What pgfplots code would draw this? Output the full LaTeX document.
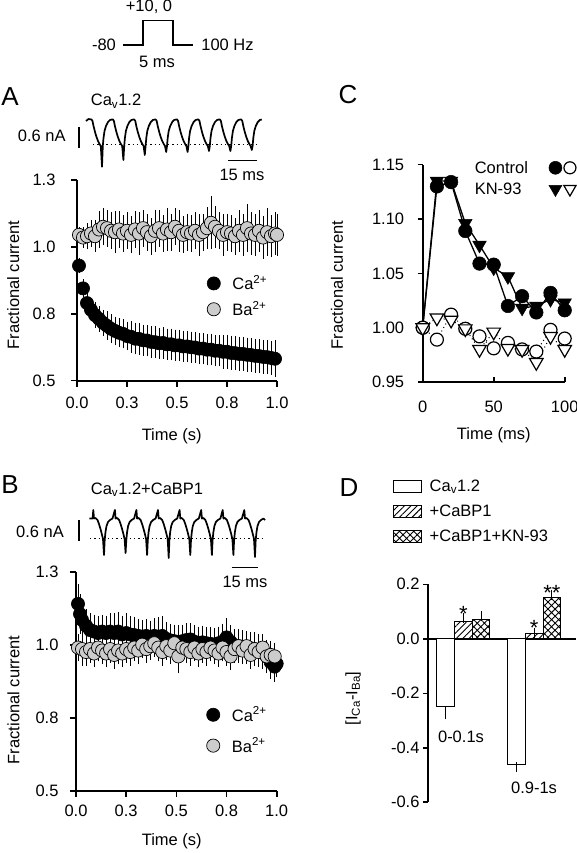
\documentclass[border=0pt]{standalone}
\usepackage{fontspec}
\setmainfont{Liberation Sans}
\usepackage{pgfplots}
\pgfplotsset{compat=1.18}
\usetikzlibrary{patterns.meta}
\definecolor{bagray}{RGB}{204,204,204}
\newcommand{\fs}{\fontsize{16.5}{19}\selectfont}
\pgfplotsset{
  panel/.style={
    scale only axis, clip=false,
    axis x line*=bottom, axis y line*=left,
    axis line style={line width=1.8pt,-},
    tick style={black,line width=1.6pt},
    major tick length=6pt,
    tick align=outside,
    tick label style={font=\fs},
    label style={font=\fs},
    legend style={font=\fs, draw=none, fill=none},
    /pgf/number format/assume math mode=true,
  },
  ebar/.style={error bars/.cd, y dir=both, y explicit,
    error bar style={line width=0.9pt, black},
    error mark options={line width=0.9pt, mark size=5pt, black}},
  markleg/.style={legend image code/.code={\draw[##1] plot coordinates {(6pt,0pt)};}},
}
\begin{document}
\begin{tikzpicture}[x=1pt,y=1pt,font=\fs]
\path[use as bounding box] (0,0) rectangle (577,853);

% ---------------- overlay (annotations, traces) ----------------
\begin{axis}[at={(0pt,0pt)}, anchor=south west, scale only axis, width=577pt, height=853pt,
  xmin=0, xmax=577, ymin=0, ymax=853, y dir=reverse, hide axis, clip=false]
% protocol
\addplot[black, line width=1.1pt] coordinates {(123,45) (143,45) (143,20.7) (173,20.7) (173,45) (193,45)};
\node at (axis cs:149,7) {+10, 0};
\node at (axis cs:104,45) {-80};
\node at (axis cs:227.5,45) {100 Hz};
\node at (axis cs:157,62) {5 ms};
% panel letters
\node at (axis cs:10,97) {\fontsize{26}{30}\selectfont A};
\node at (axis cs:10,484.5) {\fontsize{26}{30}\selectfont B};
\node at (axis cs:348,95) {\fontsize{26}{30}\selectfont C};
\node at (axis cs:349,488) {\fontsize{26}{30}\selectfont D};
% trace A
\node[anchor=base west, inner sep=0pt] at (axis cs:90.7,106) {Ca\textsubscript{v}1.2};
\node at (axis cs:41.7,136) {0.6 nA};
\addplot[black, line width=1.2pt] coordinates {(79,126.7) (79,148.3)};
\addplot[black, line width=1.5pt, dash pattern=on 1.4pt off 3pt] coordinates {(93,144.5) (258,144.5)};
\addplot[black, line width=1.2pt] coordinates {(228,160.7) (257,160.7)};
\node at (axis cs:242,175) {15 ms};
\addplot[black, line width=1.7pt, line join=round] coordinates {
(86,121) (88.5,119)
(91.5,119.5)(92.5,121)(93.5,126)(95,132)(96.5,137)(98,141)(99.5,144)(100.8,146)(102,166.7)(102.8,146)(103.5,138)(104.5,131)(106,126)(108,122)(110,120)(112,119.5)
(112.9,119.5)(113.9,121)(114.9,126)(116.4,132)(117.9,137)(119.4,141)(120.9,144)(122.2,146)(123.4,160)(124.2,146)(124.9,138)(125.9,131)(127.4,126)(129.4,122)(131.4,120)(133.4,119.5)
(134.3,119.5)(135.3,121)(136.3,126)(137.8,132)(139.3,137)(140.8,141)(142.3,144)(143.6,146)(144.8,155)(145.6,146)(146.3,138)(147.3,131)(148.8,126)(150.8,122)(152.8,120)(154.8,119.5)
(155.7,119.5)(156.7,121)(157.7,126)(159.2,132)(160.7,137)(162.2,141)(163.7,144)(165,146)(166.2,152)(167,146)(167.7,138)(168.7,131)(170.2,126)(172.2,122)(174.2,120)(176.2,119.5)
(177.1,119.5)(178.1,121)(179.1,126)(180.6,132)(182.1,137)(183.6,141)(185.1,144)(186.4,146)(187.6,152)(188.4,146)(189.1,138)(190.1,131)(191.6,126)(193.6,122)(195.6,120)(197.6,119.5)
(198.5,119.5)(199.5,121)(200.5,126)(202,132)(203.5,137)(205,141)(206.5,144)(207.8,146)(209,151)(209.8,146)(210.5,138)(211.5,131)(213,126)(215,122)(217,120)(219,119.5)
(219.9,119.5)(220.9,121)(221.9,126)(223.4,132)(224.9,137)(226.4,141)(227.9,144)(229.2,146)(230.4,151)(231.2,146)(231.9,138)(232.9,131)(234.4,126)(236.4,122)(238.4,120)(240.4,119.5)
(241.3,119.5)(242.3,121)(243.3,126)(244.8,132)(246.3,137)(247.8,141)(249.3,144)(250.6,146)(251.8,150)(252.6,146)(253.3,138)(254.3,131)(255.8,126)(257.8,122)(259.8,120)(261.8,119.5)};
% trace B
\node[anchor=base west, inner sep=0pt] at (axis cs:90.7,494.3) {Ca\textsubscript{v}1.2+CaBP1};
\node at (axis cs:40,531.7) {0.6 nA};
\addplot[black, line width=1.2pt] coordinates {(79,520) (79,540.7)};
\addplot[black, line width=1.5pt, dash pattern=on 1.4pt off 3pt] coordinates {(90,538.3) (263,538.3)};
\addplot[black, line width=1.2pt] coordinates {(231.7,567.3) (258.3,567.3)};
\node at (axis cs:245,581.7) {15 ms};
\addplot[black, line width=1.7pt, line join=round] coordinates {
(89.3,518.5)(92.6,518.5)
(93.3,510)(94,518.5)(95.5,518)(97.5,520)(99,524)(100.5,529)(101.8,534)(103,539)(104,555)(104.7,540)(105.5,532)(106.5,526)(108,522)(110,520)(112.5,518.5)
(114.9,510)(115.6,518.5)(117.1,518)(119.1,520)(120.6,524)(122.1,529)(123.4,534)(124.6,539)(125.6,553)(126.3,540)(127.1,532)(128.1,526)(129.6,522)(131.6,520)(134.1,518.5)
(136.4,510)(137.1,518.5)(138.6,518)(140.6,520)(142.1,524)(143.6,529)(144.9,534)(146.1,539)(147.1,555)(147.8,540)(148.6,532)(149.6,526)(151.1,522)(153.1,520)(155.6,518.5)
(158,510)(158.7,518.5)(160.2,518)(162.2,520)(163.7,524)(165.2,529)(166.5,534)(167.7,539)(168.7,558)(169.4,540)(170.2,532)(171.2,526)(172.7,522)(174.7,520)(177.2,518.5)
(179.6,510)(180.3,518.5)(181.8,518)(183.8,520)(185.3,524)(186.8,529)(188.1,534)(189.3,539)(190.3,555)(191,540)(191.8,532)(192.8,526)(194.3,522)(196.3,520)(198.8,518.5)
(201.2,510)(201.9,518.5)(203.4,518)(205.4,520)(206.9,524)(208.4,529)(209.7,534)(210.9,539)(211.9,555)(212.6,540)(213.4,532)(214.4,526)(215.9,522)(217.9,520)(220.4,518.5)
(222.7,510)(223.4,518.5)(224.9,518)(226.9,520)(228.4,524)(229.9,529)(231.2,534)(232.4,539)(233.4,555)(234.1,540)(234.9,532)(235.9,526)(237.4,522)(239.4,520)(241.9,518.5)
(244.3,510)(245,518.5)(246.5,518)(248.5,520)(250,524)(251.5,529)(252.8,534)(254,539)(255,557)(255.7,540)(256.5,532)(257.5,526)(259,522)(261,520)(263.5,518.5)(265,520)};
% D group labels
\node at (axis cs:461,736.7) {0-0.1s};
\node at (axis cs:534,788.3) {0.9-1s};
\end{axis}

% ---------------- Panel A ----------------
\begin{axis}[panel, markleg, at={(77pt,472.3pt)}, anchor=south west, width=200pt, height=200.7pt,
  xmin=0, xmax=1, ymin=0.5, ymax=1.25,
  xtick={0,0.25,0.5,0.75,1}, xticklabels={0.0,0.3,0.5,0.8,1.0},
  ytick={0.5,0.75,1,1.25}, yticklabels={0.5,0.8,1.0,1.3},
  xticklabel style={yshift=-7pt}, yticklabel style={xshift=-12pt},
  xlabel={Time (s)}, ylabel={Fractional current},
  xlabel style={at={(axis description cs:0.4735,-0.279)}, anchor=center},
  ylabel style={at={(axis description cs:-0.3185,0.477)}, anchor=center},
  legend style={at={(axis description cs:0.635,0.545)}, anchor=north west, row sep=6pt,
    /tikz/every odd column/.append style={column sep=10pt}},
  legend cell align=left]
\addplot[only marks, mark=*, mark size=6.6pt, mark options={fill=black, draw=black, line width=0.6pt}, ebar]
  coordinates {
(0.01,0.930) +- (0,0.010) (0.03,0.845) +- (0,0.015) (0.05,0.790) +- (0,0.020) (0.07,0.765) +- (0,0.025)
(0.09,0.745) +- (0,0.030) (0.11,0.731) +- (0,0.030) (0.13,0.716) +- (0,0.030) (0.15,0.705) +- (0,0.035)
(0.17,0.694) +- (0,0.035) (0.19,0.686) +- (0,0.035) (0.21,0.679) +- (0,0.035) (0.23,0.675) +- (0,0.035)
(0.25,0.667) +- (0,0.035) (0.27,0.664) +- (0,0.040) (0.29,0.657) +- (0,0.040) (0.31,0.656) +- (0,0.040)
(0.33,0.651) +- (0,0.040) (0.35,0.650) +- (0,0.040) (0.37,0.645) +- (0,0.040) (0.39,0.644) +- (0,0.040)
(0.41,0.640) +- (0,0.040) (0.43,0.641) +- (0,0.040) (0.45,0.636) +- (0,0.040) (0.47,0.636) +- (0,0.040)
(0.49,0.632) +- (0,0.040) (0.51,0.632) +- (0,0.040) (0.53,0.628) +- (0,0.040) (0.55,0.628) +- (0,0.040)
(0.57,0.625) +- (0,0.040) (0.59,0.624) +- (0,0.040) (0.61,0.620) +- (0,0.040) (0.63,0.620) +- (0,0.040)
(0.65,0.616) +- (0,0.040) (0.67,0.616) +- (0,0.040) (0.69,0.612) +- (0,0.040) (0.71,0.612) +- (0,0.040)
(0.73,0.608) +- (0,0.045) (0.75,0.608) +- (0,0.045) (0.77,0.604) +- (0,0.045) (0.79,0.603) +- (0,0.045)
(0.81,0.600) +- (0,0.045) (0.83,0.600) +- (0,0.045) (0.85,0.597) +- (0,0.045) (0.87,0.596) +- (0,0.045)
(0.89,0.593) +- (0,0.045) (0.91,0.592) +- (0,0.045) (0.93,0.589) +- (0,0.045) (0.95,0.588) +- (0,0.045)
(0.97,0.585) +- (0,0.045) (0.99,0.582) +- (0,0.050)};
\addlegendentry{Ca\textsuperscript{2+}}
\addplot[only marks, mark=*, mark size=6.6pt, mark options={fill=bagray, draw=black, line width=0.7pt}, ebar]
  coordinates {
(0.01,1.045) +- (0,0.010) (0.03,1.035) +- (0,0.020) (0.05,1.040) +- (0,0.030) (0.07,1.050) +- (0,0.030)
(0.09,1.040) +- (0,0.040) (0.11,1.065) +- (0,0.050) (0.13,1.075) +- (0,0.050) (0.15,1.070) +- (0,0.050)
(0.17,1.060) +- (0,0.050) (0.19,1.055) +- (0,0.060) (0.21,1.065) +- (0,0.050) (0.23,1.050) +- (0,0.050)
(0.25,1.060) +- (0,0.050) (0.27,1.045) +- (0,0.050) (0.29,1.065) +- (0,0.050) (0.31,1.050) +- (0,0.060)
(0.33,1.070) +- (0,0.050) (0.35,1.055) +- (0,0.050) (0.37,1.040) +- (0,0.050) (0.39,1.060) +- (0,0.060)
(0.41,1.070) +- (0,0.050) (0.43,1.050) +- (0,0.050) (0.45,1.065) +- (0,0.060) (0.47,1.055) +- (0,0.050)
(0.49,1.075) +- (0,0.050) (0.51,1.060) +- (0,0.060) (0.53,1.045) +- (0,0.050) (0.55,1.055) +- (0,0.050)
(0.57,1.050) +- (0,0.050) (0.59,1.060) +- (0,0.050) (0.61,1.045) +- (0,0.060) (0.63,1.055) +- (0,0.050)
(0.65,1.070) +- (0,0.060) (0.67,1.090) +- (0,0.080) (0.69,1.075) +- (0,0.060) (0.71,1.060) +- (0,0.050)
(0.73,1.045) +- (0,0.060) (0.75,1.055) +- (0,0.050) (0.77,1.050) +- (0,0.050) (0.79,1.040) +- (0,0.050)
(0.81,1.060) +- (0,0.060) (0.83,1.045) +- (0,0.060) (0.85,1.070) +- (0,0.070) (0.87,1.050) +- (0,0.060)
(0.89,1.045) +- (0,0.060) (0.91,1.060) +- (0,0.060) (0.93,1.035) +- (0,0.060) (0.95,1.055) +- (0,0.070)
(0.97,1.040) +- (0,0.060) (0.99,1.050) +- (0,0.060) (1.00,1.045) +- (0,0.060)};
\addlegendentry{Ba\textsuperscript{2+}}
\end{axis}

% ---------------- Panel B ----------------
\begin{axis}[panel, markleg, at={(76pt,62.3pt)}, anchor=south west, width=200.7pt, height=219pt,
  xmin=0, xmax=1, ymin=0.5, ymax=1.25,
  xtick={0,0.25,0.5,0.75,1}, xticklabels={0.0,0.3,0.5,0.8,1.0},
  ytick={0.5,0.75,1,1.25}, yticklabels={0.5,0.8,1.0,1.3},
  xticklabel style={yshift=-5pt}, yticklabel style={xshift=-8pt},
  xlabel={Time (s)}, ylabel={Fractional current},
  xlabel style={at={(axis description cs:0.477,-0.233)}, anchor=center},
  ylabel style={at={(axis description cs:-0.312,0.414)}, anchor=center},
  legend style={at={(axis description cs:0.635,0.402)}, anchor=north west, row sep=11pt,
    /tikz/every odd column/.append style={column sep=10pt}},
  legend cell align=left]
\addplot[only marks, mark=*, mark size=6.6pt, mark options={fill=black, draw=black, line width=0.6pt}, ebar]
  coordinates {
(0.01,1.140) +- (0,0.050) (0.02,1.105) +- (0,0.050) (0.03,1.085) +- (0,0.040) (0.05,1.065) +- (0,0.040)
(0.07,1.050) +- (0,0.040) (0.09,1.045) +- (0,0.040) (0.11,1.040) +- (0,0.040) (0.13,1.045) +- (0,0.040)
(0.15,1.040) +- (0,0.040) (0.17,1.045) +- (0,0.045) (0.19,1.040) +- (0,0.050) (0.21,1.045) +- (0,0.050)
(0.23,1.035) +- (0,0.045) (0.25,1.040) +- (0,0.050) (0.27,1.035) +- (0,0.045) (0.29,1.033) +- (0,0.045)
(0.31,1.030) +- (0,0.040) (0.33,1.028) +- (0,0.040) (0.35,1.030) +- (0,0.040) (0.37,1.025) +- (0,0.040)
(0.39,1.030) +- (0,0.045) (0.41,1.028) +- (0,0.050) (0.43,1.030) +- (0,0.050) (0.45,1.020) +- (0,0.040)
(0.47,1.015) +- (0,0.040) (0.49,1.012) +- (0,0.040) (0.51,1.010) +- (0,0.040) (0.53,1.012) +- (0,0.040)
(0.55,1.016) +- (0,0.040) (0.57,1.018) +- (0,0.040) (0.59,1.010) +- (0,0.040) (0.61,1.005) +- (0,0.040)
(0.63,1.008) +- (0,0.040) (0.65,1.005) +- (0,0.040) (0.67,1.003) +- (0,0.040) (0.69,1.000) +- (0,0.040)
(0.71,1.005) +- (0,0.040) (0.73,1.010) +- (0,0.045) (0.75,1.025) +- (0,0.050) (0.77,1.010) +- (0,0.040)
(0.79,0.998) +- (0,0.040) (0.81,0.995) +- (0,0.040) (0.83,0.992) +- (0,0.040) (0.85,0.990) +- (0,0.040)
(0.87,0.988) +- (0,0.040) (0.89,0.985) +- (0,0.040) (0.91,0.980) +- (0,0.040) (0.93,0.975) +- (0,0.040)
(0.95,0.960) +- (0,0.040) (0.97,0.940) +- (0,0.040) (0.99,0.925) +- (0,0.035) (1.00,0.935) +- (0,0.030)};
\addlegendentry{Ca\textsuperscript{2+}}
\addplot[only marks, mark=*, mark size=6.6pt, mark options={fill=bagray, draw=black, line width=0.7pt}, ebar]
  coordinates {
(0.01,0.990) +- (0,0.030) (0.03,0.985) +- (0,0.040) (0.05,0.975) +- (0,0.030) (0.07,0.985) +- (0,0.030)
(0.09,0.970) +- (0,0.030) (0.11,0.990) +- (0,0.030) (0.13,0.980) +- (0,0.030) (0.15,0.970) +- (0,0.030)
(0.17,0.985) +- (0,0.030) (0.19,0.965) +- (0,0.030) (0.21,0.980) +- (0,0.030) (0.23,0.970) +- (0,0.030)
(0.25,0.985) +- (0,0.030) (0.27,0.975) +- (0,0.030) (0.29,0.990) +- (0,0.030) (0.31,0.980) +- (0,0.030)
(0.33,1.000) +- (0,0.030) (0.35,0.985) +- (0,0.030) (0.37,0.995) +- (0,0.030) (0.39,1.005) +- (0,0.030)
(0.41,0.990) +- (0,0.030) (0.43,0.975) +- (0,0.030) (0.45,0.995) +- (0,0.030) (0.47,0.980) +- (0,0.030)
(0.49,1.005) +- (0,0.030) (0.51,0.960) +- (0,0.040) (0.53,0.990) +- (0,0.030) (0.55,0.985) +- (0,0.030)
(0.57,0.975) +- (0,0.030) (0.59,0.990) +- (0,0.030) (0.61,0.970) +- (0,0.030) (0.63,0.985) +- (0,0.030)
(0.65,0.975) +- (0,0.030) (0.67,0.990) +- (0,0.030) (0.69,0.980) +- (0,0.030) (0.71,0.970) +- (0,0.030)
(0.73,0.990) +- (0,0.030) (0.75,0.975) +- (0,0.030) (0.77,0.960) +- (0,0.030) (0.79,0.985) +- (0,0.030)
(0.81,0.995) +- (0,0.030) (0.83,0.980) +- (0,0.030) (0.85,0.995) +- (0,0.030) (0.87,0.965) +- (0,0.030)
(0.89,0.985) +- (0,0.030) (0.91,0.975) +- (0,0.030) (0.93,0.990) +- (0,0.030) (0.95,0.960) +- (0,0.030)
(0.97,0.965) +- (0,0.030) (0.99,0.960) +- (0,0.030)};
\addlegendentry{Ba\textsuperscript{2+}}
\end{axis}

% ---------------- Panel C ----------------
\begin{axis}[panel, at={(422.7pt,471pt)}, anchor=south west, width=142pt, height=217.3pt,
  xmin=0, xmax=100, ymin=0.95, ymax=1.15,
  tick align=inside, major tick length=5pt,
  every y tick/.append style={xshift=-5pt},
  xtick={0,50,100}, xticklabels={0,50,100},
  ytick={0.95,1.00,1.05,1.10,1.15}, yticklabels={0.95,1.00,1.05,1.10,1.15},
  xticklabel style={yshift=-15pt}, yticklabel style={xshift=-15pt},
  xlabel={Time (ms)}, ylabel={Fractional current},
  xlabel style={at={(axis description cs:0.5,-0.245)}, anchor=center},
  ylabel style={at={(axis description cs:-0.603,0.446)}, anchor=center},
  legend columns=2,
  legend style={at={(axis description cs:0.33,1.036)}, anchor=north west, row sep=4pt,
    /tikz/every even column/.append style={column sep=19pt}},
  legend cell align=left]
\addplot[black, line width=1.3pt, mark=triangle*, mark size=7.8pt, mark options={solid, fill=black, rotate=180, line width=0.5pt}, forget plot]
  coordinates {(0,1.000)(10,1.135)(20,1.135)(30,1.096)(40,1.076)(50,1.055)(60,1.047)(70,1.018)(80,1.020)(90,1.026)(100,1.023)};
\addplot[black, line width=1.3pt, mark=*, mark size=6.8pt, mark options={solid, fill=black, line width=0.5pt}, forget plot]
  coordinates {(0,1.000)(10,1.130)(20,1.134)(30,1.089)(40,1.059)(50,1.058)(60,1.020)(70,1.029)(80,1.014)(90,1.032)(100,1.016)};
\addplot[black, line width=1pt, dash pattern=on 1pt off 3pt, mark=*, mark size=6.5pt, mark options={solid, fill=white, line width=1.2pt}, forget plot]
  coordinates {(0,1.000)(10,0.989)(20,1.012)(30,0.999)(40,0.992)(50,0.981)(60,0.986)(70,0.980)(80,0.978)(90,0.998)(100,0.990)};
\addplot[black, line width=1pt, dash pattern=on 1pt off 3pt, mark=triangle*, mark size=7.8pt, mark options={solid, fill=white, rotate=180, line width=1.2pt}, forget plot]
  coordinates {(0,1.000)(10,1.009)(20,1.007)(30,0.999)(40,0.980)(50,0.996)(60,0.981)(70,0.980)(80,0.968)(90,0.992)(100,0.980)};
\addlegendimage{empty legend}\addlegendentry{Control}
\addlegendimage{legend image code/.code={
  \draw[black, fill=black, line width=0.5pt] plot[only marks, mark=*, mark size=6.5pt] coordinates {(0pt,0pt)};
  \draw[black, fill=white, line width=1.2pt] plot[only marks, mark=*, mark size=6pt] coordinates {(14.5pt,0pt)};}}
\addlegendentry{}
\addlegendimage{empty legend}\addlegendentry{KN-93}
\addlegendimage{legend image code/.code={
  \draw[black, fill=black, line width=0.5pt] plot[only marks, mark=triangle*, mark size=7.5pt, mark options={rotate=180}] coordinates {(0pt,0pt)};
  \draw[black, fill=white, line width=1.2pt] plot[only marks, mark=triangle*, mark size=7pt, mark options={rotate=180}] coordinates {(14.5pt,0pt)};}}
\addlegendentry{}
\end{axis}

% ---------------- Panel D ----------------
\begin{axis}[panel, at={(428pt,50.7pt)}, anchor=south west, width=148pt, height=218pt,
  axis x line=none,
  xmin=0, xmax=8.36, ymin=-0.6, ymax=0.2, major tick length=5pt,
  xtick=\empty,
  ytick={-0.6,-0.4,-0.2,0,0.2}, yticklabels={-0.6,-0.4,-0.2,0.0,0.2},
  ylabel={[I\textsubscript{Ca}-I\textsubscript{Ba}]},
  ylabel style={at={(axis description cs:-0.506,0.477)}, anchor=center},
  legend style={at={(axis description cs:-0.26,1.5)}, anchor=north west, row sep=8pt,
    /tikz/every odd column/.append style={column sep=6pt}},
  legend cell align=left,
  legend image code/.code={\draw[#1, line width=1pt] (0pt,-6pt) rectangle (28pt,6pt);}]
\addplot[black, line width=1.8pt, forget plot] coordinates {(0,0) (8.36,0)};
\addplot[ybar, bar width=17.7pt, bar shift=0pt, draw=black, line width=1pt, fill=white, forget plot,
  error bars/.cd, y dir=minus, y explicit, error bar style={line width=1pt}, error mark options={line width=1pt, mark size=5pt}]
  coordinates {(1,-0.248) -= (0,0.028) (5,-0.463) -= (0,0.006)};
\addplot[ybar, bar width=17.7pt, bar shift=0pt, draw=black, line width=1pt, pattern={Lines[angle=45,distance=4.5pt,line width=0.9pt]}, forget plot,
  error bars/.cd, y dir=plus, y explicit, error bar style={line width=1pt}, error mark options={line width=1pt, mark size=5pt}]
  coordinates {(2,0.064) += (0,0.012) (6,0.018) += (0,0.003)};
\addplot[ybar, bar width=17.7pt, bar shift=0pt, draw=black, line width=1pt, pattern={Hatch[angle=45,distance=5pt,line width=0.9pt]}, forget plot,
  error bars/.cd, y dir=plus, y explicit, error bar style={line width=1pt}, error mark options={line width=1pt, mark size=5pt}]
  coordinates {(3,0.071) += (0,0.012) (7,0.152) += (0,0.010)};
\node[anchor=base, inner sep=0pt, font=\fontsize{22}{24}\selectfont] at (axis cs:2,0.062) {*};
\node[anchor=base, inner sep=0pt, font=\fontsize{22}{24}\selectfont] at (axis cs:6,0.012) {*};
\node[anchor=base, inner sep=0pt, font=\fontsize{22}{24}\selectfont] at (axis cs:7,0.141) {**};
\addlegendimage{fill=white}\addlegendentry{Ca\textsubscript{v}1.2}
\addlegendimage{pattern={Lines[angle=45,distance=4.5pt,line width=0.9pt]}}\addlegendentry{+CaBP1}
\addlegendimage{pattern={Hatch[angle=45,distance=5pt,line width=0.9pt]}}\addlegendentry{+CaBP1+KN-93}
\end{axis}
\end{tikzpicture}
\end{document}
